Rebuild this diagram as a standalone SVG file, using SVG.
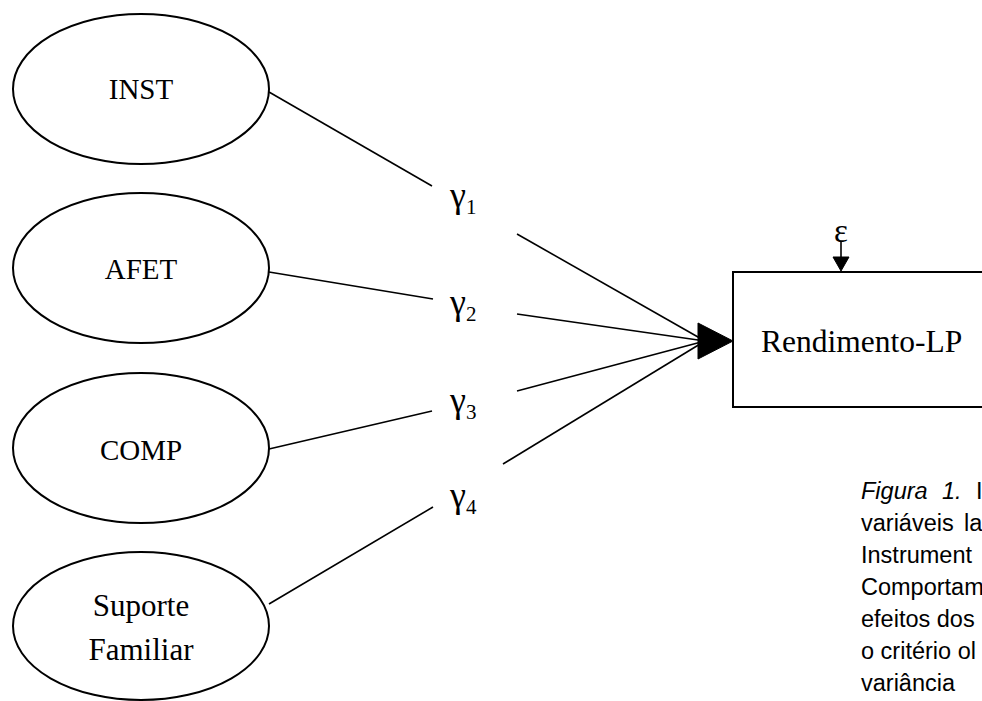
<svg xmlns="http://www.w3.org/2000/svg" width="982" height="701" viewBox="0 0 982 701">
<style>
.node ellipse{fill:#fff;stroke:#000;stroke-width:2}
.box{fill:#fff;stroke:#000;stroke-width:2}
.lbl{font-family:"Liberation Serif","Times New Roman",serif;fill:#000}
.conn line{stroke:#000;stroke-width:1.6;fill:none}
.cap{font-family:"Liberation Sans",Arial,sans-serif;font-size:23.5px;fill:#000}
</style>
<rect width="982" height="701" fill="#fff"/>
<g id="inst" class="node">
<ellipse cx="141" cy="89" rx="128" ry="75"/>
<text class="lbl" x="141" y="99" font-size="29" text-anchor="middle">INST</text>
</g>
<g id="afet" class="node">
<ellipse cx="141" cy="268" rx="128" ry="75"/>
<text class="lbl" x="141" y="279" font-size="29" text-anchor="middle">AFET</text>
</g>
<g id="comp" class="node">
<ellipse cx="141" cy="448" rx="128" ry="75"/>
<text class="lbl" x="141" y="460" font-size="29" text-anchor="middle">COMP</text>
</g>
<g id="suporte" class="node">
<ellipse cx="141" cy="626" rx="128" ry="74"/>
<text class="lbl" x="141" y="616" font-size="31" text-anchor="middle">Suporte</text>
<text class="lbl" x="141" y="660" font-size="31" text-anchor="middle">Familiar</text>
</g>
<g id="rendimento">
<rect class="box" x="733" y="272" width="270" height="135"/>
<text class="lbl" x="761" y="352" font-size="31.5">Rendimento-LP</text>
</g>
<g id="connectors" class="conn">
<line x1="269" y1="92" x2="432" y2="186"/>
<line x1="517" y1="234" x2="705" y2="341"/>
<line x1="269" y1="272" x2="433" y2="299"/>
<line x1="517" y1="314" x2="705" y2="341"/>
<line x1="269" y1="449" x2="432" y2="411"/>
<line x1="517" y1="391" x2="705" y2="341"/>
<line x1="269" y1="604" x2="433" y2="507"/>
<line x1="503" y1="464" x2="705" y2="341"/>
<polygon points="698,323 733,341 698,359" fill="#000" stroke="#000" stroke-width="1"/>
<line x1="841" y1="242" x2="841" y2="258"/>
<polygon points="833,257 849,257 841,271" fill="#000" stroke="#000" stroke-width="1"/>
</g>
<g id="labels" class="lbl">
<text x="450" y="207" font-size="36">γ<tspan font-size="21" dy="7">1</tspan></text>
<text x="450" y="314" font-size="36">γ<tspan font-size="21" dy="7">2</tspan></text>
<text x="450" y="412" font-size="36">γ<tspan font-size="21" dy="7">3</tspan></text>
<text x="450" y="507" font-size="36">γ<tspan font-size="21" dy="7">4</tspan></text>
<text x="841" y="242" font-size="33" text-anchor="middle">ε</text>
</g>
<g id="caption" class="cap">
<text x="861" y="499"><tspan font-style="italic">Figura</tspan><tspan x="942" font-style="italic">1.</tspan><tspan x="976">I</tspan></text>
<text x="861" y="531">variáveis<tspan x="964">la</tspan></text>
<text x="861" y="563">Instrument</text>
<text x="861" y="595">Comportam</text>
<text x="861" y="627">efeitos dos</text>
<text x="861" y="659">o critério ol</text>
<text x="861" y="691">variância</text>
</g>
</svg>
